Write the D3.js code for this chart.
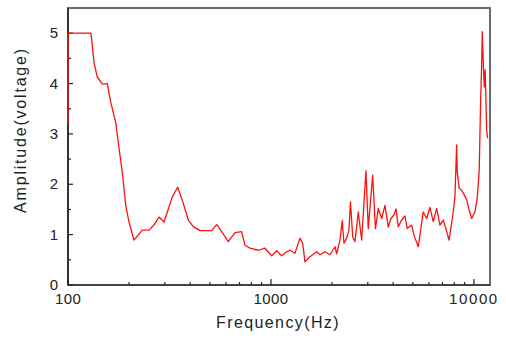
<!DOCTYPE html>
<html>
<head>
<meta charset="utf-8">
<script src="https://cdn.jsdelivr.net/npm/d3@7"></script>
<style>
  body { margin: 0; background: #fff; }
  svg text { font-family: "Liberation Sans", Arial, sans-serif; fill: #222; }
</style>
</head>
<body>
<svg id="chart" width="506" height="338"></svg>
<script>
// frequency (Hz) and amplitude (voltage)
var freq = [100, 100, 129.8, 134.3, 139.4, 147.6, 156.2, 162.3, 171.8, 178.3,
  185.1, 192.4, 199.8, 211.4, 232.3, 250.6, 265.2, 280.8, 297.1, 326.5,
  347.0, 369.8, 391.4, 414.2, 446.9, 510.5, 540.2, 571.7, 616.3, 664.8,
  717.2, 744.5, 788.1, 865.8, 934.2, 1008, 1067, 1129, 1195, 1241,
  1313, 1390, 1433, 1471, 1556, 1680, 1743, 1845, 1953, 2067,
  2107, 2188, 2245, 2289, 2360, 2423, 2464, 2527, 2593, 2692,
  2798, 2938, 3015, 3170, 3272, 3378, 3511, 3644, 3783, 3901,
  4036, 4129, 4238, 4404, 4572, 4693, 4933, 5063, 5317, 5463,
  5626, 5848, 6071, 6303, 6551, 6801, 7061, 7280, 7531, 7855,
  8062, 8220, 8275, 8465, 8698, 8958, 9205, 9480, 9743, 10110,
  10380, 10620, 10790, 10910, 10990, 11110, 11240, 11370, 11550, 11680];
var amp = [3.2, 5.0, 5.0, 4.42, 4.13, 3.99, 4.0, 3.63, 3.23, 2.72,
  2.24, 1.59, 1.25, 0.89, 1.09, 1.09, 1.19, 1.35, 1.25, 1.75,
  1.94, 1.62, 1.29, 1.16, 1.08, 1.08, 1.2, 1.06, 0.86, 1.04,
  1.06, 0.79, 0.73, 0.69, 0.73, 0.58, 0.68, 0.58, 0.66, 0.69,
  0.63, 0.93, 0.83, 0.46, 0.56, 0.66, 0.60, 0.66, 0.60, 0.76,
  0.62, 0.89, 1.28, 0.83, 0.93, 1.09, 1.65, 0.96, 0.86, 1.45,
  0.89, 2.27, 1.12, 2.18, 1.12, 1.52, 1.32, 1.58, 1.15, 1.32,
  1.39, 1.51, 1.16, 1.29, 1.37, 1.12, 1.19, 0.99, 0.76, 1.09,
  1.45, 1.32, 1.54, 1.26, 1.52, 1.19, 1.29, 1.12, 0.89, 1.36,
  1.75, 2.78, 2.25, 1.92, 1.88, 1.79, 1.69, 1.49, 1.32, 1.45,
  1.72, 2.28, 3.67, 4.33, 5.03, 4.46, 3.93, 4.27, 3.08, 2.91];

var xMajor = [100, 1000, 10000];
var yTicks = [0, 1, 2, 3, 4, 5];

var margin = {left: 68, top: 8, right: 16, bottom: 53},
    W = 506, H = 338,
    w = W - margin.left - margin.right,
    h = H - margin.top - margin.bottom;

var svg = d3.select("#chart");
var g = svg.append("g").attr("transform", "translate(" + margin.left + "," + margin.top + ")");

var x = d3.scaleLog().domain([100, 12000]).range([0, w]);
var y = d3.scaleLinear().domain([0, 5.5]).range([h, 0]);

// minor x ticks 200..900, 2000..9000
var xMinor = [];
[100, 1000].forEach(function(dec) {
  for (var k = 2; k <= 9; k++) xMinor.push(dec * k);
});
var yMinor = d3.range(0.5, 5.5, 1);

// frame
g.append("rect").attr("width", w).attr("height", h)
  .attr("fill", "none").attr("stroke", "#6a6a6a").attr("stroke-width", 2);
g.append("line").attr("x1", 0).attr("x2", 0).attr("y1", 0).attr("y2", h)
  .attr("stroke", "#333").attr("stroke-width", 2);
g.append("line").attr("x1", 0).attr("x2", w).attr("y1", h).attr("y2", h)
  .attr("stroke", "#444").attr("stroke-width", 2);

// x ticks (inward)
g.selectAll(".xmaj").data(xMajor).enter().append("line")
  .attr("x1", x).attr("x2", x).attr("y1", h).attr("y2", h - 6)
  .attr("stroke", "#222").attr("stroke-width", 1.2);
g.selectAll(".xmin").data(xMinor).enter().append("line")
  .attr("x1", x).attr("x2", x).attr("y1", h).attr("y2", h - 3)
  .attr("stroke", "#222").attr("stroke-width", 1.2);
g.selectAll(".xlab").data(xMajor).enter().append("text")
  .attr("x", x).attr("y", h + 19)
  .attr("text-anchor", "middle")
  .style("font-size", "15px")
  .style("letter-spacing", function(d) { return d == 10000 ? "1.6px" : "0.4px"; })
  .text(function(d) { return d; });

// y ticks (inward)
g.selectAll(".ymaj").data(yTicks).enter().append("line")
  .attr("x1", 0).attr("x2", 5).attr("y1", y).attr("y2", y)
  .attr("stroke", "#222").attr("stroke-width", 1.2);
g.selectAll(".ymin").data(yMinor).enter().append("line")
  .attr("x1", 0).attr("x2", 3).attr("y1", y).attr("y2", y)
  .attr("stroke", "#222").attr("stroke-width", 1.2);
g.selectAll(".ylab").data(yTicks).enter().append("text")
  .attr("x", -10).attr("y", function(d) { return y(d) + 5; })
  .attr("text-anchor", "end")
  .style("font-size", "15px")
  .text(function(d) { return d; });

// axis titles
svg.append("text")
  .attr("x", 278).attr("y", 328)
  .attr("text-anchor", "middle")
  .style("font-size", "16px").style("letter-spacing", "1.4px")
  .text("Frequency(Hz)");
svg.append("text")
  .attr("transform", "translate(26,130) rotate(-90)")
  .attr("text-anchor", "middle")
  .style("font-size", "16px").style("letter-spacing", "1.8px")
  .text("Amplitude(voltage)");

// curve
var line = d3.line()
  .x(function(d, i) { return x(freq[i]); })
  .y(function(d) { return y(d); });
g.append("path").datum(amp)
  .attr("d", line)
  .attr("fill", "none")
  .attr("stroke", "#ff1010")
  .attr("stroke-width", 1.3)
  .attr("stroke-linejoin", "round");
</script>
</body>
</html>
